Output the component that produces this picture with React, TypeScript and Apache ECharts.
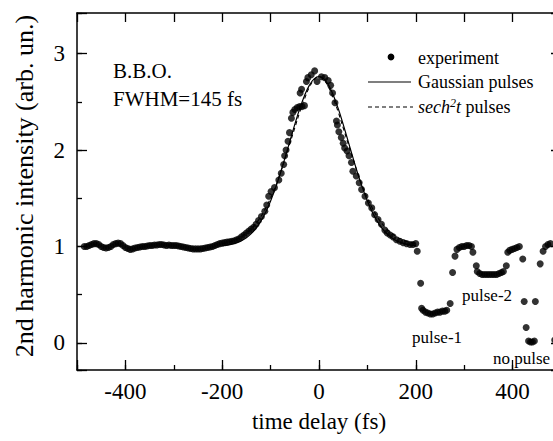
import React, { useEffect, useRef } from "react";
import * as echarts from "echarts";

const FONT = "Liberation Serif, Times New Roman, serif";

// experiment (time delay fs, 2nd harmonic intensity)
const expX = [
  -485, -480, -475, -470, -465, -460, -455, -450, -445, -440, -435, -430, -425, -420, -415, -410, -405, -400,
  -395, -390, -385, -380, -375, -370, -365, -360, -355, -350, -345, -340, -335, -330, -325, -320, -315, -310,
  -305, -300, -295, -290, -285, -280, -275, -270, -265, -260, -255, -250, -245, -240, -235, -230, -225, -220,
  -215, -210, -205, -200, -195, -190, -185, -180, -175, -170, -165, -160, -155, -150, -145, -140, -135, -130,
  -125, -119, -112, -108, -104, -99, -92, -83, -78, -73, -71, -68, -64, -61, -57, -54, -50, -45, -40, -35, -30,
  -39, -36, -26, -23, -16, -9, -4, 5, 12, 19, 24, 28, 33, 36, 38, 41, 46, 50, 53, 58, 62, 67, 70, 77, 83, 88,
  95, 102, 109, 115, 122, 129, 136, 141, 147, 153, 160, 167, 174, 181, 188, 194, 200, 203,
  210, 212, 215, 220, 225, 230, 235, 240, 245, 250, 255, 260, 264, 271, 276, 281, 285, 290, 295, 300, 305, 310,
  315, 318, 325, 327, 332, 337, 342, 347, 352, 357, 362, 367, 372, 377, 381, 387, 390, 394, 399, 404, 409, 414,
  421, 424, 447, 428, 433, 437, 441, 445, 457, 463, 468, 473, 478, 487,
];
const expY = [
  1.0, 1.0, 1.01, 1.02, 1.03, 1.03, 1.02, 1.0, 0.99, 0.985, 0.99, 1.0, 1.02, 1.03, 1.035, 1.03, 1.01, 0.99,
  0.98, 0.97, 0.975, 0.985, 0.99, 0.995, 1.0, 1.0, 1.005, 1.01, 1.01, 1.015, 1.015, 1.02, 1.02, 1.015, 1.01, 1.015,
  1.01, 1.01, 1.01, 1.005, 1.0, 0.995, 0.99, 0.985, 0.98, 0.975, 0.975, 0.975, 0.975, 0.98, 0.985, 0.99, 0.995, 1.0,
  1.01, 1.02, 1.03, 1.035, 1.04, 1.045, 1.05, 1.055, 1.06, 1.07, 1.08, 1.1, 1.12, 1.14, 1.16, 1.18, 1.2, 1.23,
  1.27, 1.31, 1.365, 1.43, 1.52, 1.57, 1.61, 1.69, 1.76, 1.85, 1.94, 2.0, 2.09, 2.18, 2.33, 2.39, 2.42, 2.44, 2.45, 2.45, 2.46,
  2.59, 2.63, 2.71, 2.75, 2.78, 2.82, 2.71, 2.76, 2.75, 2.72, 2.67, 2.59, 2.49, 2.3, 2.26, 2.19, 2.13, 2.07, 2.02, 1.99, 1.94, 1.87, 1.78, 1.73, 1.66, 1.59,
  1.52, 1.45, 1.4, 1.33, 1.28, 1.23, 1.17, 1.14, 1.12, 1.1, 1.07, 1.055, 1.04, 1.03, 1.02, 1.02, 1.03, 0.95,
  0.62, 0.36, 0.34, 0.32, 0.31, 0.3, 0.3, 0.31, 0.32, 0.32, 0.33, 0.33, 0.34, 0.41, 0.73, 0.9, 0.97, 0.99, 1.0, 1.0, 1.01, 1.01,
  1.0, 0.94, 0.8, 0.74, 0.72, 0.71, 0.71, 0.71, 0.71, 0.71, 0.71, 0.71, 0.72, 0.73, 0.74, 0.8, 0.94, 0.96, 0.97, 0.98, 0.99, 1.0,
  0.87, 0.43, 0.43, 0.16, 0.02, 0.01, 0.01, 0.02, 0.82, 0.95, 1.0, 1.02, 1.03, 0.03,
];

// fitted curves
const fitT = [
  -200, -190, -180, -170, -160, -150, -140, -130, -120, -110, -100, -90, -80, -70, -60, -50, -40, -30, -20, -10, 0,
  10, 20, 30, 40, 50, 60, 70, 80, 90, 100, 110, 120, 130, 140, 150, 160, 170, 180, 190, 200,
];
const gaussY = [
  1.009, 1.015, 1.025, 1.039, 1.06, 1.091, 1.133, 1.19, 1.264, 1.357, 1.471, 1.605, 1.757, 1.923, 2.095, 2.266, 2.426, 2.563, 2.67, 2.737, 2.76,
  2.737, 2.67, 2.563, 2.426, 2.266, 2.095, 1.923, 1.757, 1.605, 1.471, 1.357, 1.264, 1.19, 1.133, 1.091, 1.06, 1.039, 1.025, 1.015, 1.009,
];
const sechY = [
  1.03, 1.04, 1.055, 1.075, 1.1, 1.14, 1.18, 1.24, 1.31, 1.4, 1.5, 1.62, 1.76, 1.91, 2.07, 2.23, 2.39, 2.53, 2.65, 2.73, 2.76,
  2.73, 2.65, 2.53, 2.39, 2.23, 2.07, 1.91, 1.76, 1.62, 1.5, 1.4, 1.31, 1.24, 1.18, 1.14, 1.1, 1.075, 1.055, 1.04, 1.03,
];

const xTickLabels = [-400, -200, 0, 200, 400];
const yTickLabels = [0, 1, 2, 3];

const X_MIN = -500;
const X_MAX = 500;
const Y_MIN = -0.28;
const Y_MAX = 3.42;

export default function App() {
  const ref = useRef<HTMLDivElement>(null);

  useEffect(() => {
    if (!ref.current) return;
    const chart = echarts.init(ref.current, undefined, { renderer: "svg" });
    const black = "#000";
    const lbl = { color: black, fontFamily: FONT, fontSize: 23 };
    const line = (show: boolean) => ({ show, onZero: false, lineStyle: { color: black, width: 1.5 } });
    const tick = (len: number) => ({ show: true, inside: true, length: len, lineStyle: { color: black, width: 1.3 } });
    const txt = (text: string, x: number, y: number, size: number, align = "left") => ({
      type: "text",
      x,
      y,
      style: { text, fontSize: size, fontFamily: FONT, fill: black, align, verticalAlign: "middle" },
    });

    const option: any = {
      animation: false,
      backgroundColor: "#fff",
      textStyle: { fontFamily: FONT },
      grid: { left: 77, right: 14, top: 13, bottom: 71 },
      xAxis: [
        {
          type: "value",
          position: "bottom",
          min: X_MIN,
          max: X_MAX,
          minInterval: 200,
          maxInterval: 200,
          axisLine: line(true),
          axisTick: tick(10),
          axisLabel: {
            ...lbl,
            margin: 10,
            formatter: (v: number) => (xTickLabels.some((t) => Math.abs(t - v) < 1e-6) ? String(Math.round(v)) : ""),
          },
          splitLine: { show: false },
        },
        {
          type: "value",
          position: "bottom",
          min: X_MIN,
          max: X_MAX,
          interval: 100,
          axisLine: line(false),
          axisTick: tick(5),
          axisLabel: { show: false },
          splitLine: { show: false },
        },
        {
          type: "value",
          position: "top",
          min: X_MIN,
          max: X_MAX,
          interval: 100,
          axisLine: line(true),
          axisTick: tick(9),
          axisLabel: { show: false },
          splitLine: { show: false },
        },
      ],
      yAxis: [
        {
          type: "value",
          position: "left",
          min: Y_MIN,
          max: Y_MAX,
          minInterval: 1,
          maxInterval: 1,
          axisLine: line(true),
          axisTick: tick(10),
          axisLabel: {
            ...lbl,
            margin: 12,
            formatter: (v: number) => (yTickLabels.some((t) => Math.abs(t - v) < 1e-6) ? String(Math.round(v)) : ""),
          },
          splitLine: { show: false },
        },
        {
          type: "value",
          position: "left",
          min: Y_MIN,
          max: Y_MAX,
          minInterval: 0.5,
          maxInterval: 0.5,
          axisLine: line(false),
          axisTick: tick(5),
          axisLabel: { show: false },
          splitLine: { show: false },
        },
        {
          type: "value",
          position: "right",
          min: Y_MIN,
          max: Y_MAX,
          minInterval: 1,
          maxInterval: 1,
          axisLine: line(true),
          axisTick: tick(10),
          axisLabel: { show: false },
          splitLine: { show: false },
        },
      ],
      series: [
        {
          name: "Gaussian pulses",
          type: "line",
          data: fitT.map((t, i) => [t, gaussY[i]]),
          showSymbol: false,
          smooth: 0.4,
          lineStyle: { color: black, width: 1.2 },
          z: 2,
        },
        {
          name: "sech2t pulses",
          type: "line",
          data: fitT.map((t, i) => [t, sechY[i]]),
          showSymbol: false,
          smooth: 0.4,
          lineStyle: { color: black, width: 1.1, type: [4, 3] },
          z: 2,
        },
        {
          name: "experiment",
          type: "scatter",
          data: expX.map((x, i) => [x, expY[i]]),
          symbol: "circle",
          symbolSize: 7,
          itemStyle: { color: black },
          z: 3,
        },
      ],
      graphic: [
        {
          type: "text",
          x: 24,
          y: 186,
          rotation: Math.PI / 2,
          style: { text: "2nd harmonic intensity (arb. un.)", fontSize: 26, fontFamily: FONT, fill: black, align: "center", verticalAlign: "middle" },
        },
        txt("time delay (fs)", 319, 421, 23, "center"),
        txt("B.B.O.", 113, 71, 21),
        txt("FWHM=145 fs", 113, 99, 21),
        { type: "circle", shape: { cx: 391, cy: 57, r: 3.4 }, style: { fill: black } },
        txt("experiment", 418, 58, 18),
        { type: "line", shape: { x1: 368, y1: 82, x2: 411, y2: 82 }, style: { stroke: black, lineWidth: 1.2 } },
        txt("Gaussian pulses", 418, 82, 18),
        { type: "line", shape: { x1: 368, y1: 107, x2: 413, y2: 107 }, style: { stroke: black, lineWidth: 1.1, lineDash: [4, 3] } },
        {
          type: "text",
          x: 418,
          y: 107,
          style: {
            text: "{i|sech}{s|2}{i|t} pulses",
            fontSize: 18,
            fontFamily: FONT,
            fill: black,
            align: "left",
            verticalAlign: "middle",
            rich: {
              i: { fontStyle: "italic", fontSize: 18, fontFamily: FONT, fill: black },
              s: { fontStyle: "italic", fontSize: 12, fontFamily: FONT, fill: black, padding: [0, 0, 9, 0] },
            },
          },
        },
        txt("pulse-1", 412, 337, 17),
        txt("pulse-2", 462, 295, 17),
        txt("no pulse", 493, 358, 17),
      ],
    };

    chart.setOption(option);
    return () => chart.dispose();
  }, []);

  return (
    <div style={{ position: "fixed", left: 0, top: 0, width: 553, height: 441, overflow: "hidden", background: "#fff" }}>
      <div ref={ref} style={{ width: 575, height: 441 }} />
    </div>
  );
}
